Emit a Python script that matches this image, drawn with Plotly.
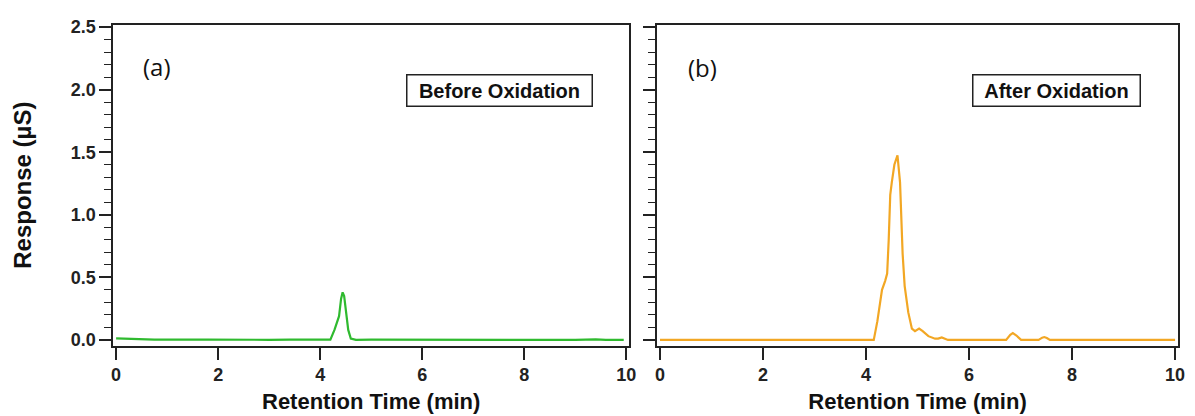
import plotly.graph_objects as go

# ---- data ----
time_a = [0.0, 0.1, 0.2, 0.3, 0.45, 0.6, 0.75, 0.9, 1.1, 1.4, 1.8, 2.2, 2.6, 3.0, 3.4, 3.8, 4.1, 4.2,
          4.28, 4.33, 4.37, 4.41, 4.44, 4.47, 4.51, 4.55, 4.6, 4.7, 5.0, 6.0, 7.0, 8.0, 9.0, 9.4, 9.5, 9.6, 9.95]
resp_a = [0.012, 0.010, 0.008, 0.006, 0.004, 0.006, 0.003, 0.002, 0.004, 0.002, 0.003, 0.001, 0.002, 0.001,
          0.002, 0.001, 0.001, 0.002, 0.08, 0.14, 0.19, 0.33, 0.38, 0.35, 0.22, 0.08, 0.01, 0.0, 0.002, 0.001,
          0.001, 0.001, 0.0, 0.005, 0.002, 0.001, 0.0]

time_b = [0.0, 4.15, 4.22, 4.31, 4.37, 4.41, 4.44, 4.47, 4.50, 4.55, 4.61, 4.66, 4.71, 4.75, 4.82, 4.89, 4.95,
          5.03, 5.10, 5.21, 5.34, 5.40, 5.47, 5.53, 5.59, 6.72, 6.80, 6.85, 6.92, 7.01, 7.35, 7.42, 7.46,
          7.51, 7.57, 10.0]
resp_b = [0.0, 0.0, 0.15, 0.40, 0.47, 0.53, 0.80, 1.16, 1.26, 1.40, 1.476, 1.26, 0.69, 0.43, 0.22, 0.09, 0.07,
          0.09, 0.07, 0.03, 0.01, 0.01, 0.02, 0.01, 0.0, 0.0, 0.04, 0.054, 0.035, 0.0, 0.0, 0.018, 0.023,
          0.015, 0.0, 0.0]

x_ticks = [0, 2, 4, 6, 8, 10]
y_ticks = [0.0, 0.5, 1.0, 1.5, 2.0, 2.5]
y_tick_text = ["0.0", "0.5", "1.0", "1.5", "2.0", "2.5"]
panel_labels = ["(a)", "(b)"]
panel_titles = ["Before Oxidation", "After Oxidation"]

W, H = 1195, 416
def px(v):
    return v / W
def py(v):
    return 1 - v / H

fig = go.Figure()
fig.add_trace(go.Scatter(x=time_a, y=resp_a, mode="lines", line=dict(color="#2FBA2F", width=2.2),
                         xaxis="x", yaxis="y", showlegend=False))
fig.add_trace(go.Scatter(x=time_b, y=resp_b, mode="lines", line=dict(color="#F2A724", width=2.2),
                         xaxis="x2", yaxis="y2", showlegend=False))

axcol = "#222222"
FONT = "Liberation Sans, Arial, sans-serif"
tickfont = dict(family=FONT, size=18, color="#222222", weight="bold")
xrange = [-0.058, 10.058]
yrange = [-0.047, 2.521]
ydom = [py(348), py(18)]

common_x = dict(range=xrange, tickvals=x_ticks, ticks="outside", ticklen=12, tickwidth=1.5, tickcolor=axcol,
                showline=True, linecolor=axcol, linewidth=1.5, mirror=True, showgrid=False, zeroline=False,
                tickfont=tickfont, title=dict(text="Retention Time (min)", standoff=9,
                font=dict(family=FONT, size=22, color="#111", weight="bold")))
common_y = dict(range=yrange, tickvals=y_ticks, ticktext=y_tick_text, ticks="outside", ticklen=12,
                tickwidth=1.5, tickcolor=axcol, showline=True, linecolor=axcol, linewidth=1.5, mirror=True,
                showgrid=False, zeroline=False, tickfont=tickfont,
                minor=dict(dtick=0.1, ticks="outside", ticklen=7, tickwidth=1.2, tickcolor=axcol, showgrid=False))

fig.update_layout(
    width=W, height=H, margin=dict(l=0, r=0, t=0, b=0),
    paper_bgcolor="white", plot_bgcolor="white",
    xaxis=dict(domain=[px(112), px(632)], anchor="y", **common_x),
    xaxis2=dict(domain=[px(660), px(1185)], anchor="y2", **common_x),
    yaxis=dict(domain=ydom, anchor="x", **common_y,
               title=dict(text="Response (µS)", standoff=32,
                          font=dict(family=FONT, size=24, color="#111", weight="bold"))),
    yaxis2=dict(domain=ydom, anchor="x2", showticklabels=False, **common_y),
)

# panel labels
labfont = dict(family="Open Sans, sans-serif", size=24, color="#111")
fig.add_annotation(x=px(156), y=py(61), xref="paper", yref="paper", text=panel_labels[0], showarrow=False,
                   font=labfont, xanchor="center", yanchor="middle")
fig.add_annotation(x=px(706), y=py(62), xref="paper", yref="paper", text=panel_labels[1], showarrow=False,
                   font=labfont, xanchor="center", yanchor="middle")

boxfont = dict(family=FONT, size=20, color="#111", weight="bold")
fig.add_annotation(x=px(501.5), y=py(86), xref="paper", yref="paper", text=panel_titles[0], showarrow=False,
                   font=boxfont, xanchor="center", yanchor="middle", bordercolor="#222", borderwidth=1.5,
                   borderpad=0, width=184, height=30, bgcolor="white")
fig.add_annotation(x=px(1062), y=py(86), xref="paper", yref="paper", text=panel_titles[1], showarrow=False,
                   font=boxfont, xanchor="center", yanchor="middle", bordercolor="#222", borderwidth=1.5,
                   borderpad=0, width=166, height=30, bgcolor="white")

fig.write_html("out.html")
